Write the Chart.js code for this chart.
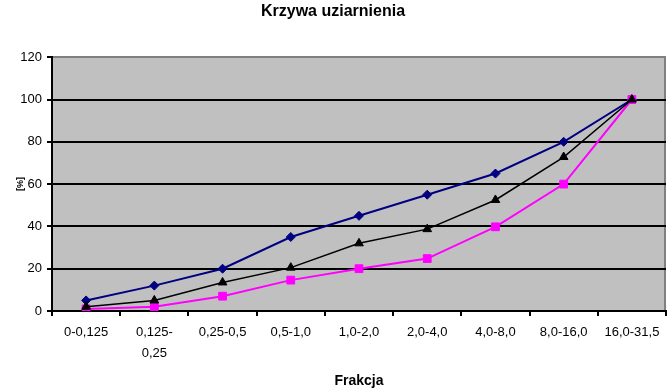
<!DOCTYPE html>
<html>
<head>
<meta charset="utf-8">
<script src="https://cdn.jsdelivr.net/npm/chart.js@4"></script>
<style>
  html, body { margin: 0; padding: 0; background: #fff; }
  #wrap { width: 667px; height: 390px; }
</style>
</head>
<body>
<div id="wrap"><canvas id="chart"></canvas></div>
<script>
const categories = ['0-0,125', ['0,125-', '0,25'], '0,25-0,5', '0,5-1,0', '1,0-2,0', '2,0-4,0', '4,0-8,0', '8,0-16,0', '16,0-31,5']
const blueSeries = [5, 12, 20, 35, 45, 55, 65, 80, 100]
const blackSeries = [2, 5, 13.5, 20.5, 32, 38.7, 52.5, 72.8, 100]
const magentaSeries = [1, 2, 7, 14.6, 20, 24.8, 39.8, 60, 100]
const yTicks = [0, 20, 40, 60, 80, 100, 120]

const font = '"Liberation Sans", Arial, sans-serif'

const plotBackground = {
  id: 'plotBackground',
  beforeDraw(chart) {
    const { ctx, chartArea: a } = chart
    ctx.save()
    ctx.fillStyle = '#c0c0c0'
    ctx.fillRect(a.left, a.top, a.right - a.left, a.bottom - a.top)
    ctx.strokeStyle = '#808080'
    ctx.lineWidth = 2
    ctx.beginPath()
    ctx.moveTo(a.right - 1, a.top)
    ctx.lineTo(a.right - 1, a.bottom)
    ctx.stroke()
    ctx.restore()
  }
}

new Chart(document.getElementById('chart').getContext('2d'), {
  type: 'line',
  data: {
    labels: categories,
    datasets: [
      {
        data: blackSeries,
        borderColor: '#000000',
        backgroundColor: '#000000',
        borderWidth: 1.5,
        pointStyle: 'triangle',
        pointRadius: 5,
        pointBorderWidth: 1,
        tension: 0
      },
      {
        data: magentaSeries,
        borderColor: '#ff00ff',
        backgroundColor: '#ff00ff',
        borderWidth: 2,
        pointStyle: 'rect',
        pointRadius: 5.5,
        pointBorderWidth: 1,
        tension: 0
      },
      {
        data: blueSeries,
        borderColor: '#000080',
        backgroundColor: '#000080',
        borderWidth: 2,
        pointStyle: 'rectRot',
        pointRadius: 4.5,
        pointBorderWidth: 1,
        tension: 0
      }
    ]
  },
  options: {
    responsive: true,
    maintainAspectRatio: false,
    animation: false,
    layout: { autoPadding: false, padding: { left: 0, right: 1, top: 0, bottom: 0 } },
    plugins: {
      legend: { display: false },
      tooltip: { enabled: false },
      title: {
        display: true,
        text: 'Krzywa uziarnienia',
        color: '#000',
        font: { family: font, size: 16, weight: 'bold' },
        padding: { top: 2, bottom: 36 }
      }
    },
    scales: {
      x: {
        type: 'category',
        offset: true,
        afterFit(scale) {
          scale.height = 79
          scale.paddingLeft = 0
          scale.paddingRight = 0
        },
        grid: {
          offset: true,
          drawOnChartArea: false,
          drawTicks: true,
          tickLength: 5,
          color: '#000',
          lineWidth: 2
        },
        border: { color: '#000', width: 2 },
        ticks: {
          color: '#000',
          maxRotation: 0,
          autoSkip: false,
          padding: 6,
          font: { family: font, size: 13, lineHeight: 1.6 }
        },
        title: {
          display: true,
          text: 'Frakcja',
          color: '#000',
          font: { family: font, size: 14, weight: 'bold' },
          padding: { top: 0, bottom: 0 }
        }
      },
      y: {
        min: 0,
        max: 120,
        afterFit(scale) { scale.width = 52 },
        afterBuildTicks(scale) { scale.ticks = yTicks.map(v => ({ value: v })) },
        grid: {
          color: ctx => (ctx.tick && ctx.tick.value === 120 ? '#808080' : '#000'),
          tickColor: '#000',
          lineWidth: 2,
          tickLength: 5
        },
        border: { color: '#000', width: 2 },
        ticks: {
          color: '#000',
          padding: 5,
          font: { family: font, size: 13 }
        },
        title: {
          display: true,
          text: '[%]',
          color: '#000',
          font: { family: font, size: 9, weight: 'bold' },
          padding: { top: 15, bottom: 0 }
        }
      }
    }
  },
  plugins: [plotBackground]
})
</script>
</body>
</html>
